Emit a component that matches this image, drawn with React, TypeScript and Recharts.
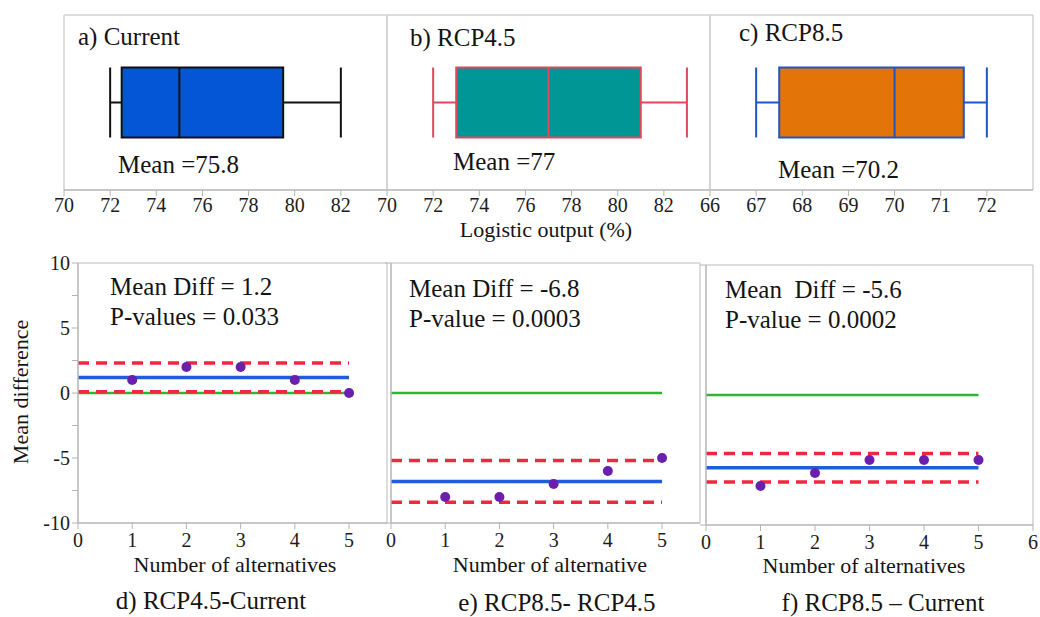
import { ComposedChart, ReferenceArea, ReferenceLine, Scatter, XAxis, YAxis } from "recharts";

// top row: box plots of logistic output (%)
const boxTitles = ["a) Current", "b) RCP4.5", "c) RCP8.5"];
const boxMin = [72, 72, 67];
const boxQ1 = [72.5, 73, 67.5];
const boxMedian = [75, 77, 70];
const boxQ3 = [79.5, 81, 71.5];
const boxMax = [82, 83, 72];
const boxMeanLabels = ["Mean =75.8", "Mean =77", "Mean =70.2"];
const boxDomains = [[70, 84], [70, 84], [66, 73]];
const boxTicks = [
    [70, 72, 74, 76, 78, 80, 82],
    [70, 72, 74, 76, 78, 80, 82],
    [66, 67, 68, 69, 70, 71, 72],
];

// bottom row: mean difference per number of alternatives
const alternatives = [1, 2, 3, 4, 5];
const diffValues = [
    [1, 2, 2, 1, 0],
    [-8, -8, -7, -6, -5],
    [-7, -6, -5, -5, -5],
];
const diffMeans = [1.2, -6.8, -5.6];
const diffUpper = [2.3, -5.2, -4.5];
const diffLower = [0.1, -8.4, -6.7];
const diffStats = [
    ["Mean Diff = 1.2", "P-values = 0.033"],
    ["Mean Diff = -6.8", "P-value = 0.0003"],
    ["Mean  Diff = -5.6", "P-value = 0.0002"],
];
const diffTitles = ["d) RCP4.5-Current", "e) RCP8.5- RCP4.5", "f) RCP8.5 \u2013 Current"];
const diffXLabels = ["Number of alternatives", "Number of alternative", "Number of alternatives"];
const diffXDomains = [[0, 5.7], [0, 5.7], [0, 6]];
const diffXTicks = [[0, 1, 2, 3, 4, 5], [0, 1, 2, 3, 4, 5], [0, 1, 2, 3, 4, 5, 6]];
const diffYTicks = [-10, -7.5, -5, -2.5, 0, 2.5, 5, 7.5, 10];

const boxFill = ["#0556d6", "#009696", "#e37408"];
const boxStroke = ["#111111", "#e0485c", "#1f55c6"];

const FONT = "Liberation Serif";
const tickStyle = { fontSize: 20, fill: "#1c1c1c", fontFamily: FONT };
const AXIS = "#b4b4b4";
const FRAME = "#d2d2d2";

function BoxPanel({ i, plotLeft }: { i: number; plotLeft: number }) {
    const ml = 24;
    const mr = i === 2 ? 7 : 24;
    const mt = 10;
    const plotW = 323;
    const plotH = 175;
    const [d0, d1] = boxDomains[i];
    const s = boxStroke[i];
    const stats = [boxMin[i], boxQ1[i], boxMedian[i], boxQ3[i], boxMax[i]].map((v) => ({ x: v, y: 0.5 }));
    return (
        <div style={{ position: "absolute", left: plotLeft - ml, top: 15 - mt }}>
            <ComposedChart width={plotW + ml + mr} height={plotH + mt + 30 + 10} margin={{ top: mt, right: mr, bottom: 10, left: ml }}>
                <XAxis type="number" dataKey="x" domain={boxDomains[i]} ticks={boxTicks[i]} interval={0} allowDataOverflow
                    tick={tickStyle} tickLine={{ stroke: AXIS }} axisLine={{ stroke: AXIS, strokeWidth: 1.5 }} tickMargin={2} height={30} />
                <YAxis type="number" dataKey="y" domain={[0, 1]} allowDataOverflow hide />
                <Scatter data={stats} isAnimationActive={false} shape={() => <g />} />
                <ReferenceLine segment={[{ x: d0, y: 1 }, { x: d1, y: 1 }]} stroke={FRAME} strokeWidth={1.5} />
                <ReferenceLine segment={[{ x: d0, y: 0 }, { x: d0, y: 1 }]} stroke={FRAME} strokeWidth={1.5} />
                <ReferenceLine segment={[{ x: d1, y: 0 }, { x: d1, y: 1 }]} stroke={FRAME} strokeWidth={1.5} />
                <ReferenceLine segment={[{ x: boxMin[i], y: 0.5 }, { x: boxQ1[i], y: 0.5 }]} stroke={s} strokeWidth={2} />
                <ReferenceLine segment={[{ x: boxQ3[i], y: 0.5 }, { x: boxMax[i], y: 0.5 }]} stroke={s} strokeWidth={2} />
                <ReferenceLine segment={[{ x: boxMin[i], y: 0.3 }, { x: boxMin[i], y: 0.7 }]} stroke={s} strokeWidth={2} />
                <ReferenceLine segment={[{ x: boxMax[i], y: 0.3 }, { x: boxMax[i], y: 0.7 }]} stroke={s} strokeWidth={2} />
                <ReferenceArea x1={boxQ1[i]} x2={boxQ3[i]} y1={0.3} y2={0.7} fill={boxFill[i]} fillOpacity={1} stroke={s} strokeWidth={2} />
                <ReferenceLine segment={[{ x: boxMedian[i], y: 0.3 }, { x: boxMedian[i], y: 0.7 }]} stroke={s} strokeWidth={2} />
            </ComposedChart>
        </div>
    );
}

function DiffPanel({ i, plotLeft, plotTop, plotW }: { i: number; plotLeft: number; plotTop: number; plotW: number }) {
    const yw = i === 0 ? 44 : 12;
    const mr = i === 2 ? 7 : 12;
    const mt = 10;
    const plotH = 260;
    const [x0, x1] = diffXDomains[i];
    const pts = alternatives.map((a, k) => ({ x: a, y: diffValues[i][k] }));
    const xEnd = alternatives[alternatives.length - 1];
    return (
        <div style={{ position: "absolute", left: plotLeft - yw, top: plotTop - mt }}>
            <ComposedChart width={plotW + yw + mr} height={plotH + mt + 34 + 6} margin={{ top: mt, right: mr, bottom: 6, left: 0 }}>
                <XAxis type="number" dataKey="x" domain={diffXDomains[i]} ticks={diffXTicks[i]} interval={0} allowDataOverflow
                    tick={tickStyle} tickLine={{ stroke: AXIS }} axisLine={{ stroke: AXIS, strokeWidth: 1.5 }} tickMargin={4} height={34} />
                <YAxis type="number" dataKey="y" domain={[-10, 10]} ticks={i === 0 ? diffYTicks : [-10, 10]} interval={0} width={yw}
                    tick={tickStyle} tickFormatter={(v: number) => (i === 0 && v % 5 === 0 ? String(v) : "")}
                    tickLine={{ stroke: AXIS }} axisLine={{ stroke: AXIS, strokeWidth: 1.5 }} />
                <ReferenceLine segment={[{ x: x0, y: 10 }, { x: x1, y: 10 }]} stroke={FRAME} strokeWidth={1.5} />
                <ReferenceLine segment={[{ x: x1, y: -10 }, { x: x1, y: 10 }]} stroke={FRAME} strokeWidth={1.5} />
                <Scatter data={pts} isAnimationActive={false}
                    shape={(p: any) => <circle cx={p.cx} cy={p.cy} r={5} fill="#6a1fae" />} />
                <ReferenceLine segment={[{ x: 0, y: 0 }, { x: xEnd, y: 0 }]} stroke="#2fb52f" strokeWidth={2.5} />
                <ReferenceLine segment={[{ x: 0, y: diffUpper[i] }, { x: xEnd, y: diffUpper[i] }]} stroke="#f0283f" strokeWidth={3.5} strokeDasharray="11 7" />
                <ReferenceLine segment={[{ x: 0, y: diffLower[i] }, { x: xEnd, y: diffLower[i] }]} stroke="#f0283f" strokeWidth={3.5} strokeDasharray="11 7" />
                <ReferenceLine segment={[{ x: 0, y: diffMeans[i] }, { x: xEnd, y: diffMeans[i] }]} stroke="#1f5ed8" strokeWidth={3.5} />
            </ComposedChart>
        </div>
    );
}

export default function App() {
    const t = { fill: "#141414", fontFamily: FONT };
    return (
        <div style={{ position: "absolute", left: 0, top: 0, width: 1040, height: 617, background: "#fff", overflow: "hidden", fontFamily: FONT }}>
            <BoxPanel i={0} plotLeft={64} />
            <BoxPanel i={1} plotLeft={387} />
            <BoxPanel i={2} plotLeft={710} />
            <DiffPanel i={0} plotLeft={78} plotTop={263} plotW={309} />
            <DiffPanel i={1} plotLeft={391} plotTop={263} plotW={309} />
            <DiffPanel i={2} plotLeft={706} plotTop={265} plotW={327} />
            <svg width={1040} height={617} style={{ position: "absolute", left: 0, top: 0, pointerEvents: "none" }}>
                <text x={78} y={45} fontSize={25} {...t}>{boxTitles[0]}</text>
                <text x={410} y={46} fontSize={25} {...t}>{boxTitles[1]}</text>
                <text x={739} y={41} fontSize={25} {...t}>{boxTitles[2]}</text>
                <text x={118} y={173} fontSize={25} {...t}>{boxMeanLabels[0]}</text>
                <text x={453} y={170} fontSize={25} {...t}>{boxMeanLabels[1]}</text>
                <text x={778} y={178} fontSize={25} {...t}>{boxMeanLabels[2]}</text>
                <text x={546} y={237} fontSize={22} textAnchor="middle" {...t}>Logistic output (%)</text>
                <text x={110} y={295} fontSize={25} {...t}>{diffStats[0][0]}</text>
                <text x={110} y={325} fontSize={25} {...t}>{diffStats[0][1]}</text>
                <text x={409} y={297} fontSize={25} {...t}>{diffStats[1][0]}</text>
                <text x={409} y={327} fontSize={25} {...t}>{diffStats[1][1]}</text>
                <text x={725} y={298} fontSize={25} style={{ whiteSpace: "pre" }} {...t}>{diffStats[2][0]}</text>
                <text x={725} y={328} fontSize={25} {...t}>{diffStats[2][1]}</text>
                <text x={0} y={0} fontSize={22} textAnchor="middle" transform="translate(28 392) rotate(-90)" {...t}>Mean difference</text>
                <text x={235} y={572} fontSize={22} textAnchor="middle" {...t}>{diffXLabels[0]}</text>
                <text x={550} y={572} fontSize={22} textAnchor="middle" {...t}>{diffXLabels[1]}</text>
                <text x={864} y={573} fontSize={22} textAnchor="middle" {...t}>{diffXLabels[2]}</text>
                <text x={211} y={609} fontSize={25} textAnchor="middle" {...t}>{diffTitles[0]}</text>
                <text x={557} y={611} fontSize={25} textAnchor="middle" {...t}>{diffTitles[1]}</text>
                <text x={883} y={611} fontSize={25} textAnchor="middle" {...t}>{diffTitles[2]}</text>
            </svg>
        </div>
    );
}
